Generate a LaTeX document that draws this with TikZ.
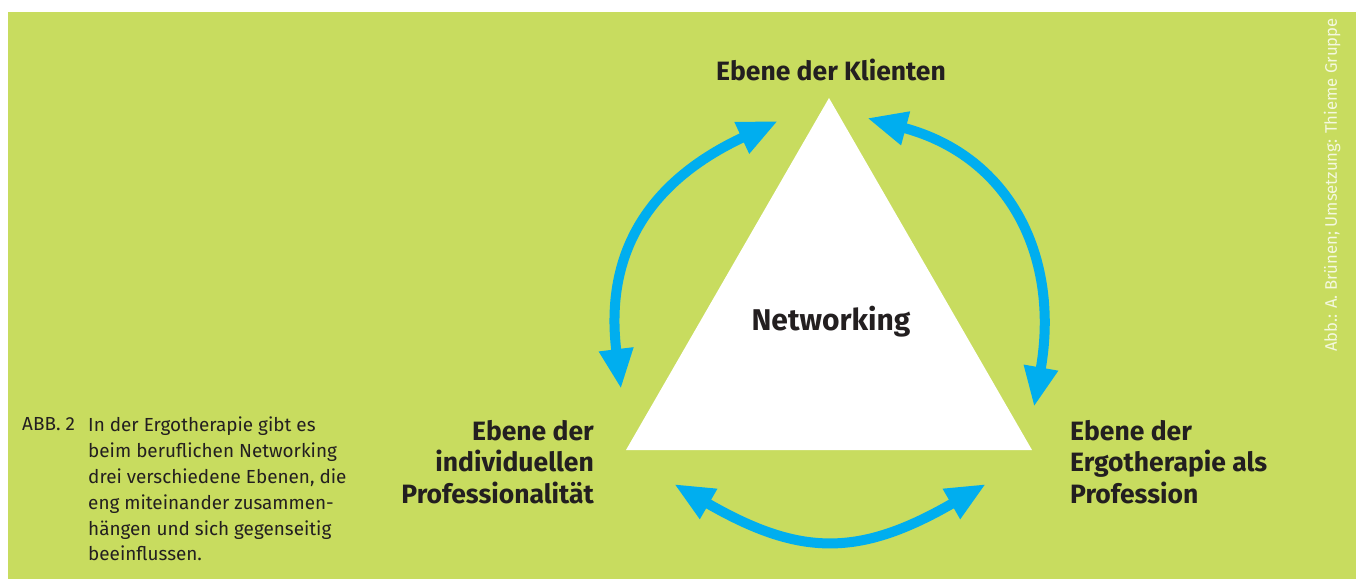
\documentclass[tikz,border=0pt]{standalone}
\usepackage{fontspec}
\setmainfont{Fira Sans}
\usetikzlibrary{arrows.meta}
\definecolor{ergogreen}{RGB}{200,220,95}
\definecolor{netblue}{RGB}{0,174,239}
\definecolor{textdark}{RGB}{35,31,32}

\begin{document}
\begin{tikzpicture}[x=1pt,y=1pt,
    level/.style={font=\fontsize{26.5}{31.5}\selectfont\bfseries, text=textdark, inner sep=0pt},
    caption/.style={font=\fontsize{18.9}{25.8}\selectfont, text=textdark, inner sep=0pt, align=left},
    link/.style={netblue, line width=10pt, {Triangle[length=40pt,width=32pt]}-{Triangle[length=40pt,width=32pt]}}]
  % background
  \useasboundingbox (0,0) rectangle (1356,579);
  \fill[ergogreen] (8,0) rectangle (1356,567);

  % triangle
  \coordinate (apex) at (829,481);
  \coordinate (left) at (626,129);
  \coordinate (right) at (1032,129);
  \fill[white] (apex) -- (left) -- (right) -- cycle;
  \node[level, font=\fontsize{30}{34}\selectfont\bfseries] (net) at (831,257) {Networking};

  % levels
  \node[level] (klient) at (831,509) {Ebene der Klienten};
  \node[level, anchor=east, align=right] (indiv) at (594,117) {Ebene der\\individuellen\\Professionalität};
  \node[level, anchor=west, align=left] (ergo) at (1070,117) {Ebene der\\Ergotherapie als\\Profession};

  % arrows
  \coordinate (lLow) at (621,190);
  \coordinate (lTop) at (778,458);
  \coordinate (rTop) at (867,461);
  \coordinate (rLow) at (1034,172);
  \coordinate (bL) at (674,95);
  \coordinate (bR) at (986,95);
  \draw[link] (lLow) to[out=97, in=205, looseness=1.15] (lTop);
  \draw[link] (rLow) to[out=80, in=-15, looseness=1.15] (rTop);
  \draw[link] (bL) to[out=-30, in=210, looseness=1.2] (bR);

  % caption
  \node[caption, anchor=north west] (abb) at (22,162) {ABB. 2};
  \node[caption, anchor=north west] (captext) at (88,162) {In der Ergotherapie gibt es\\beim beruflichen Networking\\drei verschiedene Ebenen, die\\eng miteinander zusammen-\\hängen und sich gegenseitig\\beeinflussen.};

  % credit
  \node[rotate=90, text=white!80!ergogreen, font=\fontsize{16.7}{19}\selectfont, inner sep=0pt] (credit) at (1332,394) {Abb.: A. Brünen; Umsetzung: Thieme Gruppe};
\end{tikzpicture}
\end{document}
